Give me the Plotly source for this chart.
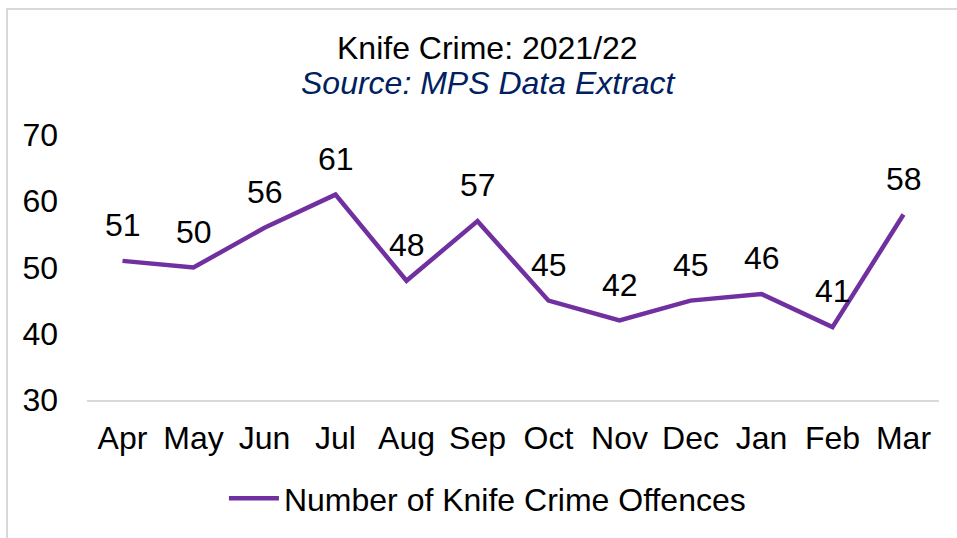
import plotly.graph_objects as go

# Monthly knife crime offences, financial year 2021/22
months = ["Apr", "May", "Jun", "Jul", "Aug", "Sep", "Oct", "Nov", "Dec", "Jan", "Feb", "Mar"]
offences = [51, 50, 56, 61, 48, 57, 45, 42, 45, 46, 41, 58]
y_ticks = [30, 40, 50, 60, 70]

PURPLE = "#7030A0"
FONT = "Liberation Sans, Arial, sans-serif"
FS = 32

W, H = 957, 538
L, R, T, B = 87, 18, 135, 134
plot_w = W - L - R
plot_h = H - T - B


def px_x(px):
    return (px - L) / plot_w


def px_y(py):
    return (H - B - py) / plot_h


fig = go.Figure()
fig.add_trace(go.Scatter(
    x=months, y=offences, mode="lines",
    name="Number of Knife Crime Offences",
    line=dict(color=PURPLE, width=4.5),
    hoverinfo="x+y",
))

# value labels above each point
for m, v in zip(months, offences):
    fig.add_annotation(x=m, y=v, text=str(v), showarrow=False,
                       xanchor="center", yanchor="middle",
                       yshift=36, font=dict(size=FS, color="#000000", family=FONT))

# title and source line
fig.add_annotation(xref="paper", yref="paper", x=px_x(487), y=px_y(47),
                   xanchor="center", yanchor="middle",
                   text="Knife Crime: 2021/22", showarrow=False,
                   font=dict(size=FS, color="#000000", family=FONT))
fig.add_annotation(xref="paper", yref="paper", x=px_x(488), y=px_y(82),
                   xanchor="center", yanchor="middle",
                   text="<i>Source: MPS Data Extract</i>", showarrow=False,
                   font=dict(size=FS, color="#002060", family=FONT))

# chart frame
fig.add_shape(type="rect", xref="paper", yref="paper",
              x0=px_x(7), x1=px_x(975), y0=px_y(560), y1=px_y(7),
              line=dict(color="#d9d9d9", width=2), fillcolor="rgba(0,0,0,0)", layer="below")

fig.update_layout(
    width=W, height=H,
    margin=dict(l=L, r=R, t=T, b=B, pad=0),
    paper_bgcolor="white", plot_bgcolor="white",
    font=dict(family=FONT, size=FS, color="#000000"),
    showlegend=True,
    legend=dict(orientation="h", x=0.47, xanchor="center", y=px_y(504), yanchor="middle",
                font=dict(size=FS, color="#000000", family=FONT), itemwidth=50,
                bgcolor="rgba(0,0,0,0)"),
    xaxis=dict(showgrid=False, showline=True, linecolor="#d9d9d9", linewidth=2,
               ticks="", tickfont=dict(size=FS, color="#000000"), ticklabelstandoff=9,
               range=[-0.5, 11.5], zeroline=False),
    yaxis=dict(range=[30, 70], tickvals=y_ticks, showgrid=False, showline=False,
               zeroline=False, ticks="", tickfont=dict(size=FS, color="#000000"),
               ticklabelstandoff=28),
)

fig.write_html("out.html")
